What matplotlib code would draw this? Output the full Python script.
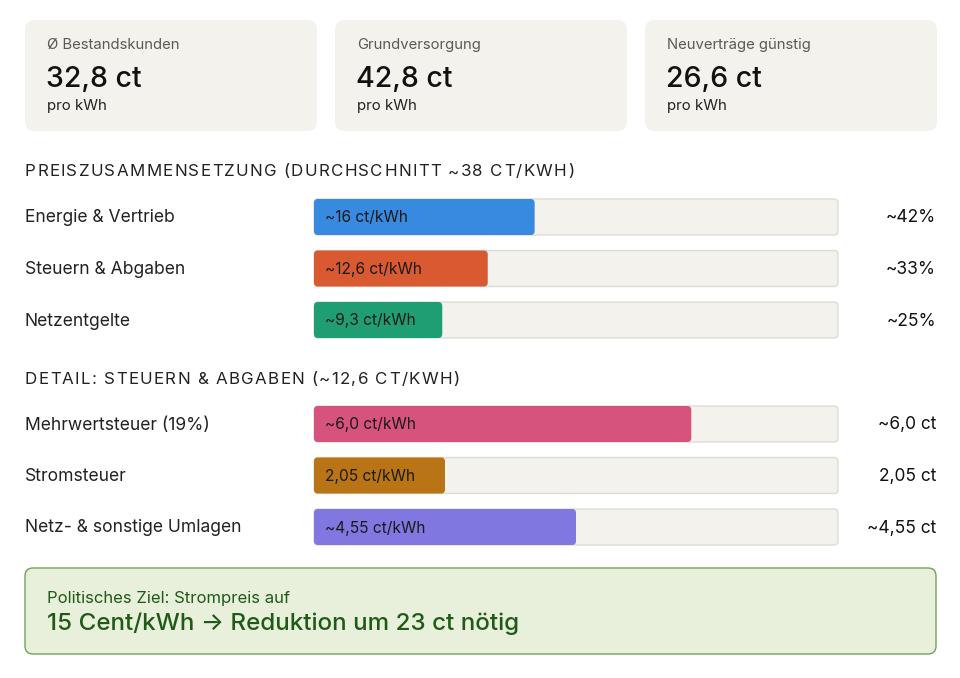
import matplotlib
matplotlib.use("Agg")
import matplotlib.pyplot as plt
from matplotlib.patches import FancyBboxPatch

plt.rcParams['font.family'] = ['Inter', 'DejaVu Sans']

# --- data ---
card_labels = ["Ø Bestandskunden", "Grundversorgung", "Neuverträge günstig"]
card_values = ["32,8 ct", "42,8 ct", "26,6 ct"]

comp_labels = ["Energie & Vertrieb", "Steuern & Abgaben", "Netzentgelte"]
comp_values = [16.0, 12.6, 9.3]
comp_text = ["~16 ct/kWh", "~12,6 ct/kWh", "~9,3 ct/kWh"]
comp_right = ["~42%", "~33%", "~25%"]
comp_total = 38.0

detail_labels = ["Mehrwertsteuer (19%)", "Stromsteuer", "Netz- & sonstige Umlagen"]
detail_values = [6.0, 2.05, 4.55]
detail_text = ["~6,0 ct/kWh", "2,05 ct/kWh", "~4,55 ct/kWh"]
detail_right = ["~6,0 ct", "2,05 ct", "~4,55 ct"]
detail_fill = [72, 25, 50]  # bar length in % as shown

comp_colors = ["#3889e0", "#d95a30", "#1f9e74"]
detail_colors = ["#d6537e", "#b97415", "#8077e0"]

W, H = 960, 678
fig = plt.figure(figsize=(W / 100, H / 100), dpi=100)
ax = fig.add_axes([0, 0, 1, 1])
ax.set_xlim(0, W)
ax.set_ylim(H, 0)
ax.axis('off')
renderer = fig.canvas.get_renderer()

card_bg = "#f3f2ec"


def rbox(x, y, w, h, fc, ec="none", r=8, lw=1.0, z=1):
    p = FancyBboxPatch((x + r, y + r), w - 2 * r, h - 2 * r,
                       boxstyle=f"round,pad={r}", fc=fc, ec=ec, lw=lw, zorder=z)
    ax.add_patch(p)


def text_width(s, **kw):
    t = ax.text(0, 0, s, **kw)
    w = t.get_window_extent(renderer).width
    t.remove()
    return w


def spaced_text(x, y, s, spacing=1.5, **kw):
    # letter-spaced heading, one glyph at a time
    space_w = text_width("a a", **kw) - text_width("aa", **kw)
    for ch in s:
        if ch == " ":
            x += space_w + spacing
            continue
        t = ax.text(x, y, ch, va='center', **kw)
        x += t.get_window_extent(renderer).width + spacing


# cards
card_x = [25, 335, 645]
for cx, lab, val in zip(card_x, card_labels, card_values):
    rbox(cx, 20, 292, 111, card_bg, r=10)
    ax.text(cx + 22, 45, lab, fontsize=10.7, color="#5a5a55", va='center')
    ax.text(cx + 21, 79, val, fontsize=20.5, color="#111111", va='center',
            fontweight='medium')
    ax.text(cx + 22, 106, "pro kWh", fontsize=10.8, color="#222222", va='center')

track_x, track_w, bar_h = 314, 524, 36


def bar_row(y, label, frac, txt, right, color):
    ax.text(25, y + 1, label, fontsize=12.6, color="#222222", va='center')
    rbox(track_x, y - bar_h / 2, track_w, bar_h, card_bg, ec="#dddcd4", r=4, lw=1, z=1)
    rbox(track_x, y - bar_h / 2, track_w * frac, bar_h, color, r=4, z=2)
    ax.text(track_x + 11, y + 1, txt, fontsize=11.2, color="#1a1a1a", va='center', zorder=3)
    ax.text(936, y + 1, right, fontsize=12.5, color="#111111", va='center', ha='right')


spaced_text(25, 172, "PREISZUSAMMENSETZUNG (DURCHSCHNITT ~38 CT/KWH)",
            spacing=1.3, fontsize=12.2, color="#222222")
for i in range(3):
    bar_row(217 + i * 51.5, comp_labels[i], comp_values[i] / comp_total,
            comp_text[i], comp_right[i], comp_colors[i])

spaced_text(25, 379, "DETAIL: STEUERN & ABGABEN (~12,6 CT/KWH)",
            spacing=1.3, fontsize=12.2, color="#222222")
for i in range(3):
    bar_row(424 + i * 51.5, detail_labels[i], detail_fill[i] / 100,
            detail_text[i], detail_right[i], detail_colors[i])

# goal box
rbox(25, 568, 911, 86, "#e8f0dc", ec="#6fa45c", r=8, lw=1)
ax.text(47, 598, "Politisches Ziel: Strompreis auf", fontsize=12,
        color="#1f5a16", va='center')
ax.text(47, 624, "15 Cent/kWh → Reduktion um 23 ct nötig", fontsize=17.4,
        color="#1f5a16", va='center', fontweight='medium')

fig.savefig("out.png", dpi=100, facecolor="white")
